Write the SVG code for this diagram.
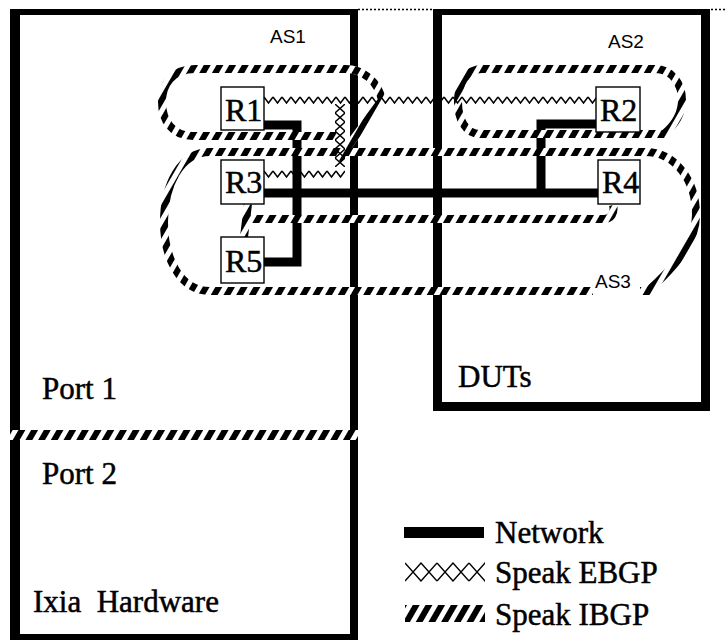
<svg xmlns="http://www.w3.org/2000/svg" width="726" height="640" viewBox="0 0 726 640">
<defs>
<pattern id="hatch" patternUnits="userSpaceOnUse" width="11" height="11" patternTransform="rotate(30)"><rect width="6" height="11" fill="#000"/></pattern>
<pattern id="zig" patternUnits="userSpaceOnUse" width="9" height="10"><polyline points="0,2 4.5,8 9,2" fill="none" stroke="#000" stroke-width="1.5"/></pattern>
<pattern id="xch" patternUnits="userSpaceOnUse" width="10" height="9"><path d="M0,0 L10,9 M10,0 L0,9" stroke="#000" stroke-width="1.4"/></pattern>
<pattern id="xleg" patternUnits="userSpaceOnUse" width="32" height="20"><path d="M0,1 L16,19 L32,1 M0,19 L16,1 L32,19" fill="none" stroke="#000" stroke-width="1.4"/></pattern>
</defs>
<style>
.frame{stroke:#000;fill:none}
.dot{stroke:#000;stroke-width:1.5;stroke-dasharray:2 2;fill:none}
.net{stroke:#000;stroke-width:9;fill:none;stroke-linejoin:miter}
.ibgp-bg{stroke:#fff;stroke-width:8;fill:none}
.ibgp{stroke:url(#hatch);stroke-width:8;fill:none}
.box{fill:#fff;stroke:#000;stroke-width:1.4}
.rl{font-family:"Liberation Serif","Times New Roman",serif;font-size:32px;fill:#000;stroke:#000;stroke-width:0.5}
.lbl{font-family:"Liberation Serif","Times New Roman",serif;font-size:31px;fill:#000;stroke:#000;stroke-width:0.5}
.as{font-family:"Liberation Sans",Arial,sans-serif;font-size:19px;fill:#000}
</style>
<rect width="726" height="640" fill="#fff"/>

<g id="ixia-hardware">
<path class="frame" stroke-width="10" d="M15 9 V640"/>
<path class="frame" stroke-width="6" d="M10 12 H358"/>
<path class="frame" stroke-width="8" d="M354 9 V640"/>
<path class="frame" stroke-width="6" d="M10 637 H358"/>
<rect x="10" y="430" width="348" height="10" fill="#fff"/>
<rect x="10" y="430" width="348" height="10" fill="url(#hatch)"/>
<text class="lbl" x="42" y="399">Port 1</text>
<text class="lbl" x="42" y="484">Port 2</text>
<text class="lbl" x="33" y="612" xml:space="preserve" style="white-space:pre">Ixia  Hardware</text>
</g>

<g id="duts">
<path class="frame" stroke-width="9" d="M437.5 9 V411"/>
<path class="frame" stroke-width="6" d="M433 12 H710"/>
<path class="frame" stroke-width="9" d="M705.5 9 V411"/>
<path class="frame" stroke-width="9" d="M433 406.5 H710"/>
<text class="lbl" x="458" y="387">DUTs</text>
</g>

<g id="top-dots">
<path class="dot" d="M358 9.5 H433"/>
<path class="dot" d="M711 9.5 H726"/>
</g>

<g id="connectors">
<path class="net" d="M264 125 H297 V262 H264"/>
<path class="net" d="M264 193 H598"/>
<path class="net" d="M596 124 H541 V193"/>

<g id="as1-loop">
<path class="ibgp-bg" d="M337 136 L193 136 C172 136 162 120 162 102 C162 85 172 69 195 69 L345 69 C364 69 378 82 382 100 L338 160"/>
<path class="ibgp" d="M337 136 L193 136 C172 136 162 120 162 102 C162 85 172 69 195 69 L345 69 C364 69 378 82 382 100 L338 160"/>
</g>
<g id="as2-loop">
<path class="ibgp-bg" d="M480 134 C465 134 458 118 458 102 C458 84 466 69 482 69 L655 69 C672 69 682 84 682 100 C682 112 676 124 664 134 Z"/>
<path class="ibgp" d="M480 134 C465 134 458 118 458 102 C458 84 466 69 482 69 L655 69 C672 69 682 84 682 100 C682 112 676 124 664 134 Z"/>
</g>
<g id="as3-loop">
<path class="ibgp-bg" d="M210 152 L645 152 C675 152 696 180 696 215 C696 240 680 262 648 291 L210 291 C180 291 164 258 164 222 C164 186 180 152 210 152 Z"/>
<path class="ibgp" d="M210 152 L645 152 C675 152 696 180 696 215 C696 240 680 262 648 291 L210 291 C180 291 164 258 164 222 C164 186 180 152 210 152 Z"/>
<path class="ibgp-bg" d="M248 204 L244 237 M250 219 L604 219 C611 219 615 213 613 205"/>
<path class="ibgp" d="M248 204 L244 237 M250 219 L604 219 C611 219 615 213 613 205"/>
</g>

<g id="ebgp">
<rect transform="translate(264,95)" width="332" height="10" fill="url(#zig)"/>
<rect transform="translate(264,169)" width="81" height="10" fill="url(#zig)"/>
<rect transform="translate(335,104)" width="10" height="63" fill="url(#xch)"/>
</g>
</g>

<g id="as-labels">
<text class="as" x="270" y="43">AS1</text>
<text class="as" x="608" y="48">AS2</text>
<rect x="593" y="272" width="47" height="24" fill="#fff"/>
<text class="as" x="595" y="288">AS3</text>
</g>

<g id="R1"><rect class="box" x="221" y="87" width="43" height="43"/><text class="rl" x="225" y="121">R1</text></g>
<g id="R2"><rect class="box" x="596" y="87" width="44" height="45"/><text class="rl" x="600" y="121">R2</text></g>
<g id="R3"><rect class="box" x="221" y="160" width="43" height="44"/><text class="rl" x="225" y="193">R3</text></g>
<g id="R4"><rect class="box" x="598" y="160" width="42" height="44"/><text class="rl" x="602" y="193">R4</text></g>
<g id="R5"><rect class="box" x="221" y="237" width="43" height="46"/><text class="rl" x="225" y="272">R5</text></g>

<g id="legend">
<rect x="404" y="527" width="80" height="11" fill="#000"/>
<text class="lbl" x="495" y="543">Network</text>
<rect transform="translate(405,562)" width="80" height="20" fill="url(#xleg)"/>
<text class="lbl" x="495" y="583">Speak EBGP</text>
<rect x="405" y="605" width="80" height="17" fill="url(#hatch)"/>
<text class="lbl" x="495" y="625">Speak IBGP</text>
</g>
</svg>
